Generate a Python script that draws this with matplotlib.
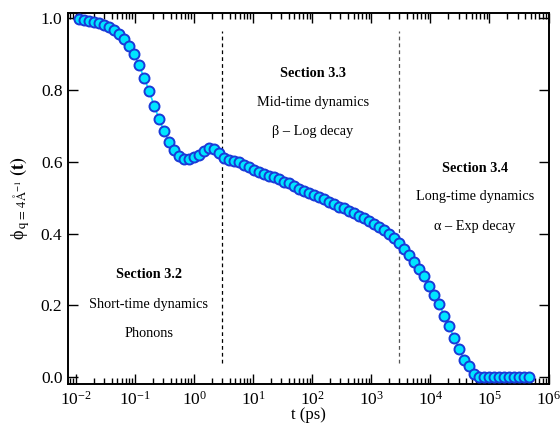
import numpy as np
import matplotlib
matplotlib.use("Agg")
import matplotlib.pyplot as plt
from matplotlib.ticker import LogLocator, FormatStrFormatter, NullFormatter

plt.rcParams['font.family'] = ['Liberation Serif', 'DejaVu Serif']
plt.rcParams['mathtext.fontset'] = 'stix'

# time (ps)
t = [0.0112, 0.0137, 0.0166, 0.0202, 0.0245, 0.0298, 0.0362, 0.0440, 0.0535, 0.0650,
     0.0791, 0.0961, 0.117, 0.142, 0.173, 0.210, 0.255, 0.310, 0.376, 0.457,
     0.556, 0.676, 0.821, 0.998, 1.21, 1.47, 1.79, 2.18, 2.65, 3.21,
     3.91, 4.75, 5.77, 7.01, 8.53, 10.4, 12.6, 15.3, 18.6, 22.6,
     27.5, 33.4, 40.6, 49.3, 60.0, 72.8, 88.5, 108, 131, 159,
     193, 235, 285, 347, 422, 512, 622, 757, 919, 1.12e3,
     1.36e3, 1.65e3, 2.00e3, 2.44e3, 2.96e3, 3.60e3, 4.38e3, 5.32e3, 6.46e3, 7.85e3,
     9.55e3, 1.16e4, 1.41e4, 1.71e4, 2.08e4, 2.53e4, 3.08e4, 3.74e4, 4.54e4, 5.52e4,
     6.71e4, 8.15e4, 9.91e4, 1.20e5, 1.46e5, 1.78e5, 2.16e5, 2.63e5, 3.19e5, 3.88e5,
     4.72e5]

phi = [0.996, 0.994, 0.992, 0.990, 0.986, 0.981, 0.974, 0.967, 0.955, 0.942,
       0.922, 0.899, 0.869, 0.834, 0.798, 0.756, 0.720, 0.685, 0.655, 0.633,
       0.617, 0.608, 0.608, 0.613, 0.620, 0.629, 0.637, 0.635, 0.625, 0.610,
       0.605, 0.602, 0.598, 0.592, 0.584, 0.578, 0.571, 0.567, 0.561, 0.557,
       0.551, 0.544, 0.540, 0.532, 0.525, 0.519, 0.512, 0.507, 0.501, 0.495,
       0.488, 0.482, 0.475, 0.470, 0.463, 0.457, 0.450, 0.443, 0.435, 0.427,
       0.418, 0.409, 0.399, 0.388, 0.374, 0.357, 0.340, 0.321, 0.301, 0.281,
       0.255, 0.229, 0.204, 0.172, 0.143, 0.109, 0.078, 0.048, 0.031, 0.008,
       0.0, 0.0, 0.0, 0.0, 0.0, 0.0, 0.0, 0.0, 0.0, 0.0,
       0.0]

# section boundaries (ps)
t_split = [3.0, 3000.0]
split_colors = ['black', '#555555']

xticks = [1e-2, 1e-1, 1e0, 1e1, 1e2, 1e3, 1e4, 1e5, 1e6]
yticks = [0.0, 0.2, 0.4, 0.6, 0.8, 1.0]

# annotations: (x, y, text, bold)
labels = [
    (0.172, 0.285, 'Section 3.2', True),
    (0.172, 0.203, 'Short-time dynamics', False),
    (0.172, 0.122, 'Phonons', False),
    (103, 0.846, 'Section 3.3', True),
    (103, 0.765, 'Mid-time dynamics', False),
    (103, 0.684, '\u03b2 \u2013 Log decay', False),
    (5.7e4, 0.580, 'Section 3.4', True),
    (5.7e4, 0.503, 'Long-time dynamics', False),
    (5.7e4, 0.421, '\u03b1 \u2013 Exp decay', False),
]

fig = plt.figure(figsize=(5.6, 4.32), dpi=100)
ax = fig.add_axes([0.1214, 0.1111, 0.859, 0.8588])

ax.plot(t, phi, '-o', color='#00e5ff', lw=1.2, ms=7.2,
        mfc='#00e5ff', mec='#1a3ad8', mew=1.4, zorder=3)

for xs, c in zip(t_split, split_colors):
    ax.plot([xs, xs], [0.04, 0.965], ls=(0, (3, 2.5)), color=c, lw=0.9)

for x, y, s, b in labels:
    ax.text(x, y, s, ha='center', va='center', fontsize=10.3,
            fontweight='bold' if b else 'normal')

ax.set_xscale('log')
ax.set_xlim(0.00733, 1.02e6)
ax.set_ylim(-0.0186, 1.014)
ax.set_xticks(xticks)
ax.set_yticks(yticks)
ax.yaxis.set_major_formatter(FormatStrFormatter('%.1f'))
ax.xaxis.set_minor_locator(LogLocator(base=10, subs=np.arange(2, 10), numticks=20))
ax.xaxis.set_minor_formatter(NullFormatter())

ax.tick_params(which='both', direction='in', top=True, right=True, width=1)
ax.tick_params(axis='y', labelsize=12.5, pad=4)
ax.tick_params(axis='x', labelsize=12.5, pad=5)
ax.tick_params(which='major', length=7)
ax.tick_params(which='minor', length=4)
for sp in ax.spines.values():
    sp.set_linewidth(1.4)

ax.set_xlabel('t (ps)', fontsize=12, labelpad=-1)
ax.set_ylabel('\u03d5' + r'$_{\,\mathrm{q\,=\,4\AA^{-1}}}$ $\mathbf{(t)}$',
              fontsize=13, labelpad=6)

fig.savefig('out.png', dpi=100)
